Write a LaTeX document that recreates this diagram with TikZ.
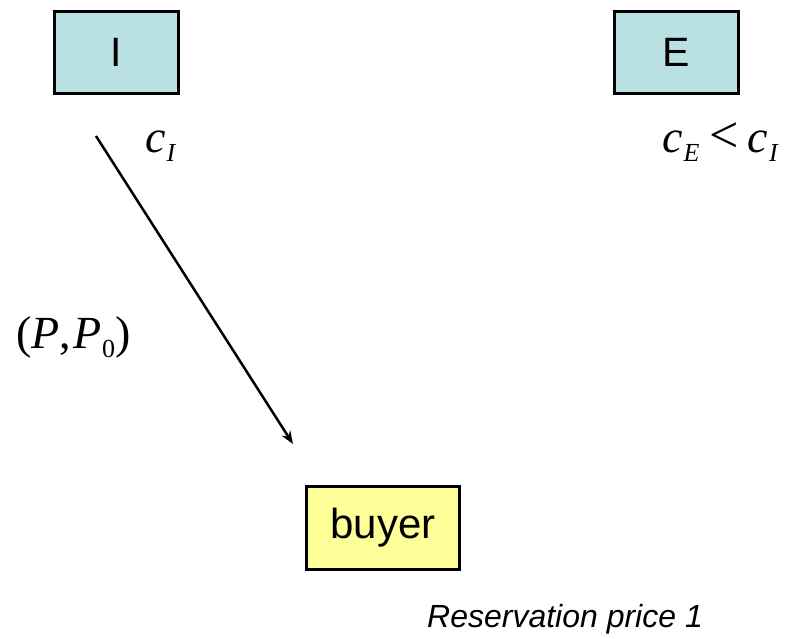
\documentclass[tikz,border=0pt]{standalone}
\usepackage{fontspec}
\setmainfont{Liberation Sans}
\newfontfamily\tms{Liberation Serif}
\usetikzlibrary{arrows.meta}
\newcommand{\fsz}[1]{\fontsize{#1}{#1}\selectfont}
\newcommand{\mysub}[1]{\hspace{1pt}\raisebox{-9pt}{\fsz{26}#1}}
\tikzset{
  firm/.style={draw=black, line width=3pt, fill={rgb,255:red,185;green,224;blue,226},
    minimum width=124pt, minimum height=82pt, inner sep=0pt, font=\fsz{41}},
  buyerbox/.style={draw=black, line width=3pt, fill={rgb,255:red,255;green,255;blue,153},
    minimum width=153pt, minimum height=83pt, inner sep=0pt, font=\fsz{42}},
  mathlbl/.style={inner sep=0pt, font=\tms\fsz{46}},
  conn/.style={line width=2.5pt, -{Stealth[length=13pt,width=10pt]}},
}
\begin{document}
\begin{tikzpicture}[x=1pt,y=-1pt]
\useasboundingbox (0,0) rectangle (790,638);
\node[firm] (I) at (116.5,52.5) {I};
\node[firm] (E) at (676.5,52.5) {E};
\node[buyerbox] (B) at (383,528) {buyer};
\node[mathlbl, anchor=base west] (cI) at (145,152) {\itshape c\mysub{I}};
\node[mathlbl, anchor=base west] (cEI) at (662,152) {\itshape c\mysub{E}\hspace{10pt}\upshape{\fsz{52}<}\hspace{9pt}\itshape c\mysub{I}};
\node[mathlbl, anchor=base west] (PP) at (16,348) {(\itshape P\upshape,\hspace{2pt}\itshape P\upshape\mysub{0})};
\node[inner sep=0pt, anchor=base west, font=\itshape\fsz{32}] (rp) at (427,627) {Reservation price 1};
\coordinate (s) at (96,136);
\coordinate (t) at (293,444);
\draw[conn] (s) -- (t);
\end{tikzpicture}
\end{document}
